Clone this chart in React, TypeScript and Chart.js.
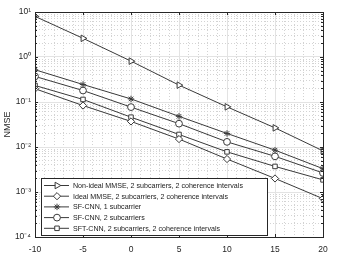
import React, { useEffect, useRef } from "react";
import { Chart, registerables } from "chart.js";
import { drawPoint } from "chart.js/helpers";

Chart.register(...registerables);

const snr = [-10, -5, 0, 5, 10, 15, 20];
const nonIdealMmse = [8.0, 2.6, 0.81, 0.237, 0.078, 0.0266, 0.0082];
const idealMmse = [0.197, 0.0835, 0.037, 0.015, 0.0054, 0.002, 0.00071];
const sfCnn1 = [0.52, 0.245, 0.117, 0.048, 0.02, 0.0085, 0.0033];
const sfCnn2 = [0.37, 0.18, 0.077, 0.033, 0.013, 0.0062, 0.00265];
const sftCnn = [0.233, 0.114, 0.046, 0.019, 0.0078, 0.0037, 0.00186];

const seriesLabels = [
  "Non-ideal MMSE, 2 subcarriers, 2 coherence intervals",
  "Ideal MMSE, 2 subcarriers, 2 coherence intervals",
  "SF-CNN, 1 subcarrier",
  "SF-CNN, 2 subcarriers",
  "SFT-CNN, 2 subcarriers, 2 coherence intervals",
];
const yTickLabels: Record<string, string> = {
  "-4": "10⁻⁴",
  "-3": "10⁻³",
  "-2": "10⁻²",
  "-1": "10⁻¹",
  "0": "10⁰",
  "1": "10¹",
};

const LINE = "#3a3a3a";
const FONT = "'Liberation Sans', Arial, sans-serif";

const markers = [
  { pointStyle: "triangle", rotation: 90, radius: 3.8 },
  { pointStyle: "rectRot", rotation: 0, radius: 3.6 },
  { pointStyle: "star", rotation: 0, radius: 3.2 },
  { pointStyle: "circle", rotation: 0, radius: 3.4 },
  { pointStyle: "rect", rotation: 0, radius: 3.2 },
];

const overlay = {
  id: "overlay",
  afterDraw(chart: any) {
    const ctx = chart.ctx;
    const a = chart.chartArea;
    const xs = chart.scales.x;
    const ys = chart.scales.y;
    ctx.save();
    ctx.strokeStyle = "#262626";
    ctx.lineWidth = 1;
    ctx.beginPath();
    for (const t of xs.ticks) {
      if (!t.major) continue;
      const px = Math.round(xs.getPixelForValue(t.value)) + 0.5;
      ctx.moveTo(px, a.bottom);
      ctx.lineTo(px, a.bottom - 3);
      ctx.moveTo(px, a.top);
      ctx.lineTo(px, a.top + 3);
    }
    for (const t of ys.ticks) {
      const len = t.major ? 3 : 2;
      const py = Math.round(ys.getPixelForValue(t.value)) + 0.5;
      ctx.moveTo(a.left, py);
      ctx.lineTo(a.left + len, py);
      ctx.moveTo(a.right, py);
      ctx.lineTo(a.right - len, py);
    }
    ctx.stroke();
    ctx.strokeRect(
      Math.round(a.left) + 0.5,
      Math.round(a.top) + 0.5,
      Math.round(a.right - a.left),
      Math.round(a.bottom - a.top)
    );
    // legend
    const lx = a.left + 6;
    const lw = 226;
    const rowH = 10.7;
    const ly = a.bottom - 59;
    const lh = 57;
    ctx.fillStyle = "#ffffff";
    ctx.fillRect(lx, ly, lw, lh);
    ctx.strokeStyle = "#262626";
    ctx.strokeRect(Math.round(lx) + 0.5, Math.round(ly) + 0.5, lw, lh);
    ctx.font = `7.1px ${FONT}`;
    ctx.textBaseline = "middle";
    ctx.textAlign = "left";
    chart.data.datasets.forEach((ds: any, i: number) => {
      const cy = ly + 7.5 + i * rowH;
      ctx.strokeStyle = LINE;
      ctx.lineWidth = 1;
      ctx.beginPath();
      ctx.moveTo(lx + 3, cy);
      ctx.lineTo(lx + 28, cy);
      ctx.stroke();
      ctx.fillStyle = "#ffffff";
      drawPoint(ctx, { ...markers[i], borderWidth: 1 }, lx + 16, cy);
      ctx.fillStyle = "#1a1a1a";
      ctx.fillText(ds.label, lx + 32, cy + 0.5);
    });
    ctx.restore();
  },
};

export default function App() {
  const ref = useRef<HTMLCanvasElement>(null);
  useEffect(() => {
    document.body.style.margin = "0";
    const series = [nonIdealMmse, idealMmse, sfCnn1, sfCnn2, sftCnn];
    const chart = new Chart(ref.current!, {
      type: "line",
      data: {
        labels: snr,
        datasets: series.map((vals, i) => ({
          label: seriesLabels[i],
          data: vals.map((v, j) => ({ x: snr[j], y: v })),
          borderColor: LINE,
          borderWidth: 1,
          backgroundColor: "#ffffff",
          pointBackgroundColor: "#ffffff",
          pointBorderColor: LINE,
          pointBorderWidth: 1,
          pointStyle: markers[i].pointStyle as any,
          rotation: markers[i].rotation,
          pointRadius: markers[i].radius,
          tension: 0,
        })),
      },
      options: {
        animation: false,
        responsive: false,
        devicePixelRatio: 1,
        layout: { padding: { left: 0, right: 36, top: 12, bottom: 0 } },
        plugins: { legend: { display: false }, tooltip: { enabled: false } },
        scales: {
          x: {
            type: "linear",
            min: -10,
            max: 20,
            afterBuildTicks(scale: any) {
              const t = [];
              for (let v = -10; v <= 20; v++) t.push({ value: v, major: v % 5 === 0 });
              scale.ticks = t;
            },
            afterFit(scale: any) {
              scale.height = 20;
            },
            ticks: {
              autoSkip: false,
              maxRotation: 0,
              padding: 8,
              color: "#262626",
              font: { family: FONT, size: 8.5 },
              callback: (v: any) => (Number(v) % 5 === 0 ? String(v) : ""),
            },
            grid: {
              drawTicks: false,
              color: (c: any) => (c.tick && c.tick.major ? "#e3e3e3" : "#d3d3d3"),
              lineWidth: 1,
            },
            border: {
              display: true,
              color: "#262626",
              dash: (c: any) => (c.tick && !c.tick.major ? [1, 2] : []),
            } as any,
          },
          y: {
            type: "logarithmic",
            min: 1e-4,
            max: 10,
            afterBuildTicks(scale: any) {
              const t = [];
              for (let e = -4; e <= 1; e++) {
                for (let m = 1; m <= 9; m++) {
                  if (e === 1 && m > 1) break;
                  t.push({ value: m * Math.pow(10, e), major: m === 1 });
                }
              }
              scale.ticks = t;
            },
            afterFit(scale: any) {
              scale.width = 35;
            },
            ticks: {
              autoSkip: false,
              padding: 4,
              color: "#262626",
              font: { family: FONT, size: 8.5 },
              callback: (v: any) => {
                const e = Math.log10(Number(v));
                const r = Math.round(e);
                return Math.abs(e - r) < 1e-6 ? yTickLabels[String(r)] : "";
              },
            },
            title: {
              display: true,
              text: "NMSE",
              color: "#262626",
              font: { family: FONT, size: 9 },
              padding: { top: 2, bottom: 0 },
            },
            grid: {
              drawTicks: false,
              color: (c: any) => (c.tick && c.tick.major ? "#e3e3e3" : "#d3d3d3"),
              lineWidth: 1,
            },
            border: {
              display: true,
              color: "#262626",
              dash: (c: any) => (c.tick && !c.tick.major ? [1, 2] : []),
            } as any,
          },
        },
      },
      plugins: [overlay],
    });
    return () => chart.destroy();
  }, []);
  return (
    <div style={{ width: 359, height: 257 }}>
      <canvas ref={ref} width={359} height={257} style={{ display: "block" }} />
    </div>
  );
}
